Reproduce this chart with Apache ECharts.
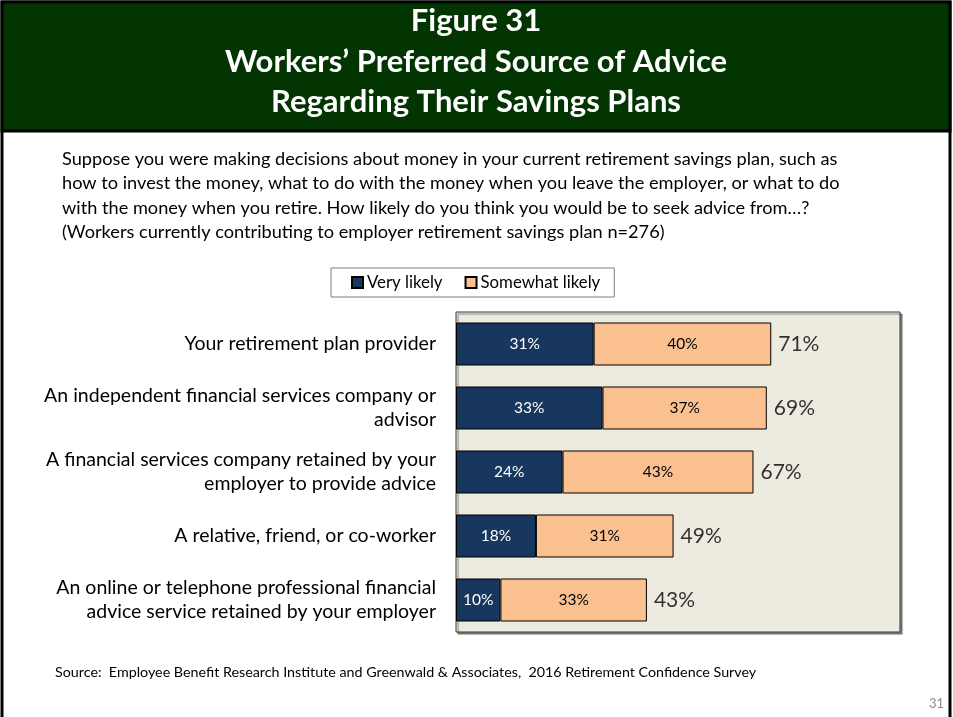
<!DOCTYPE html>
<html><head><meta charset="utf-8">
<script src="https://cdn.jsdelivr.net/npm/echarts@6/dist/echarts.min.js"></script>
<style>html,body{margin:0;padding:0;background:#fff}#c{width:953px;height:717px}</style>
</head><body><div id="c"></div>
<script>
const categories = [
  "Your retirement plan provider",
  "An independent financial services company or\nadvisor",
  "A financial services company retained by your\nemployer to provide advice",
  "A relative, friend, or co-worker",
  "An online or telephone professional financial\nadvice service retained by your employer"
];
const veryLikely = [31, 33, 24, 18, 10];
const somewhatLikely = [40, 37, 43, 31, 33];
const totals = [71, 69, 67, 49, 43];
const seriesNames = ["Very likely", "Somewhat likely"];
const titleLines = ["Figure 31", "Workers\u2019 Preferred Source of Advice", "Regarding Their Savings Plans"];
const bodyLines = [
  "Suppose you were making decisions about money in your current retirement savings plan, such as",
  "how to invest the money, what to do with the money when you leave the employer, or what to do",
  "with the money when you retire. How likely do you think you would be to seek advice from\u2026?",
  "(Workers currently contributing to employer retirement savings plan n=276)"
];
const sourceText = "Source:  Employee Benefit Research Institute and Greenwald & Associates,  2016 Retirement Confidence Survey";
const pageNumber = "31";

const FONT = "Lato, 'Open Sans', sans-serif";
const chart = echarts.init(document.getElementById('c'), null, {renderer: 'canvas'});

const graphics = [
  {type: 'rect', shape: {x: 2, y: 2, width: 948, height: 740}, style: {fill: '#fff', stroke: '#000', lineWidth: 3}, z: -10},
  {type: 'rect', shape: {x: 2, y: 2, width: 948, height: 129}, style: {fill: '#033503', stroke: '#000', lineWidth: 3}, z: -9}
];
const titleY = [21, 62, 102];
titleLines.forEach((t, i) => graphics.push({
  type: 'text', x: 476, y: titleY[i],
  style: {text: t, fill: '#fff', font: 'bold 31px ' + FONT, textAlign: 'center', textVerticalAlign: 'middle'}
}));
bodyLines.forEach((t, i) => graphics.push({
  type: 'text', x: 62, y: 159 + i * 24.5,
  style: {text: t, fill: '#000', font: '18.2px ' + FONT, textAlign: 'left', textVerticalAlign: 'middle'}
}));
graphics.push({type: 'text', x: 55, y: 672, style: {text: sourceText, fill: '#000', font: '14.3px ' + FONT, textAlign: 'left', textVerticalAlign: 'middle'}});
graphics.push({type: 'text', x: 944, y: 704, style: {text: pageNumber, fill: '#8c8c8c', font: '13px ' + FONT, textAlign: 'right', textVerticalAlign: 'middle'}});

const option = {
  animation: false,
  textStyle: {fontFamily: FONT},
  graphic: graphics,
  legend: {
    left: 331, top: 268,
    padding: [6, 14, 6, 20],
    itemGap: 22, itemWidth: 11, itemHeight: 11,
    icon: 'rect',
    borderColor: '#7f7f7f', borderWidth: 1,
    backgroundColor: '#fff',
    textStyle: {fontSize: 16.8, color: '#000', padding: [0, 0, 0, -1]},
    data: seriesNames
  },
  grid: {
    left: 456, top: 312, width: 444, height: 320,
    show: true, backgroundColor: '#EDEADF', borderColor: '#3a3a3a', borderWidth: 1,
    shadowColor: 'rgba(0,0,0,0.45)', shadowOffsetX: 2, shadowOffsetY: 2, shadowBlur: 1
  },
  xAxis: {type: 'value', min: 0, max: 100, show: false, splitLine: {show: false}},
  yAxis: {
    type: 'category', data: categories, inverse: true,
    axisLine: {show: false}, axisTick: {show: false},
    axisLabel: {margin: 20, fontSize: 19.5, color: '#000', lineHeight: 24, align: 'right'}
  },
  series: [
    {
      name: seriesNames[0], type: 'bar', stack: 'a', data: veryLikely, barWidth: 43,
      itemStyle: {color: '#17375E', borderColor: '#000', borderWidth: 1},
      label: {show: true, position: 'inside', color: '#fff', fontSize: 15.5, formatter: '{c}%'}
    },
    {
      name: seriesNames[1], type: 'bar', stack: 'a', data: somewhatLikely, barWidth: 43,
      itemStyle: {color: '#FAC090', borderColor: '#000', borderWidth: 1},
      label: {show: true, position: 'inside', color: '#000', fontSize: 15.5, formatter: '{c}%'}
    },
    {
      name: 'Total', type: 'scatter', symbolSize: 0, silent: true,
      data: veryLikely.map((v, i) => [v + somewhatLikely[i], i]),
      label: {show: true, position: 'right', distance: 7, color: '#000', fontSize: 21,
        formatter: p => totals[p.dataIndex] + '%'}
    }
  ]
};
chart.setOption(option);
</script>
</body></html>
